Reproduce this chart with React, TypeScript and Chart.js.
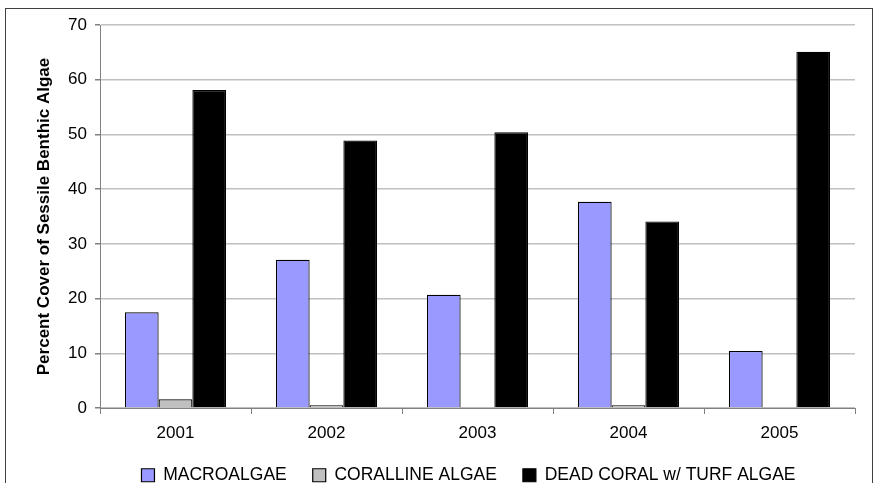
import React, { useEffect, useRef } from "react";
import { Chart, registerables } from "chart.js";

Chart.register(...registerables);

const years = ["2001", "2002", "2003", "2004", "2005"];
const macroalgae = [17.5, 27.1, 20.7, 37.7, 10.4];
const corallineAlgae = [1.6, 0.5, 0.2, 0.5, 0.2];
const deadCoralTurf = [58.1, 48.9, 50.4, 34.1, 65.1];
const seriesNames = ["MACROALGAE", "CORALLINE ALGAE", "DEAD CORAL w/ TURF ALGAE"];
const yTitle = "Percent Cover of Sessile Benthic Algae";

const FONT = "'Liberation Sans', Arial, sans-serif";

export default function App() {
  const ref = useRef<HTMLCanvasElement | null>(null);

  useEffect(() => {
    document.body.style.margin = "0";
    document.body.style.overflow = "hidden";
    const canvas = ref.current;
    if (!canvas) return;
    const legendShift = {
      id: "legendShift",
      afterLayout(chart: any) {
        const l = chart.legend;
        if (l) {
          l.left -= 9;
          l.right -= 9;
          l.top -= 3.5;
          l.bottom = chart.height;
        }
      },
    };
    const chart = new Chart(canvas, {
      type: "bar",
      data: {
        labels: years,
        datasets: [
          {
            label: seriesNames[0],
            data: macroalgae,
            backgroundColor: "#9999FF",
            borderColor: "#000000",
            borderWidth: 1.2,
          },
          {
            label: seriesNames[1],
            data: corallineAlgae,
            backgroundColor: "#C0C0C0",
            borderColor: "#000000",
            borderWidth: 1.2,
          },
          {
            label: seriesNames[2],
            data: deadCoralTurf,
            backgroundColor: "#000000",
            borderColor: "#000000",
            borderWidth: 1.2,
          },
        ],
      },
      plugins: [legendShift],
      options: {
        responsive: false,
        animation: false,
        layout: { padding: { top: 25, right: 19, left: 0, bottom: 0 } },
        datasets: {
          bar: { categoryPercentage: 0.67, barPercentage: 1.0 },
        },
        scales: {
          x: {
            grid: {
              offset: true,
              drawOnChartArea: false,
              drawTicks: true,
              tickLength: 6,
              tickColor: "#808080",
            },
            border: { color: "#808080", width: 1 },
            ticks: {
              color: "#000",
              font: { family: FONT, size: 17 },
              padding: 9,
            },
            afterFit(s: any) {
              s.height = 36;
            },
          },
          y: {
            min: 0,
            max: 70,
            ticks: {
              stepSize: 10,
              color: "#000",
              font: { family: FONT, size: 17 },
              padding: 8,
            },
            grid: {
              color: "#C0C0C0",
              lineWidth: 1.5,
              tickLength: 5,
              tickColor: "#808080",
            },
            border: { color: "#808080", width: 1 },
            title: {
              display: true,
              text: yTitle,
              color: "#000",
              font: { family: FONT, size: 17, weight: "bold" },
              padding: { top: 34, bottom: 0 },
            },
            afterFit(s: any) {
              s.width = 100;
            },
          },
        },
        plugins: {
          legend: {
            position: "bottom",
            fullSize: false,
            maxHeight: 39,
            labels: {
              color: "#000",
              font: { family: FONT, size: 17.5 },
              boxWidth: 13,
              boxHeight: 13,
              padding: 26,
            },
          },
          tooltip: { enabled: false },
        },
      },
    } as any);
    return () => chart.destroy();
  }, []);

  return (
    <div
      style={{
        position: "fixed",
        left: 0,
        top: 0,
        width: 874,
        height: 483,
        overflow: "hidden",
        background: "#fff",
      }}
    >
      <div
        style={{
          position: "absolute",
          left: 5,
          top: 8,
          width: 868,
          height: 500,
          border: "1px solid #404040",
          boxSizing: "border-box",
        }}
      />
      <canvas
        ref={ref}
        width={874}
        height={483}
        style={{ position: "absolute", left: 0, top: 0, width: 874, height: 483 }}
      />
    </div>
  );
}
